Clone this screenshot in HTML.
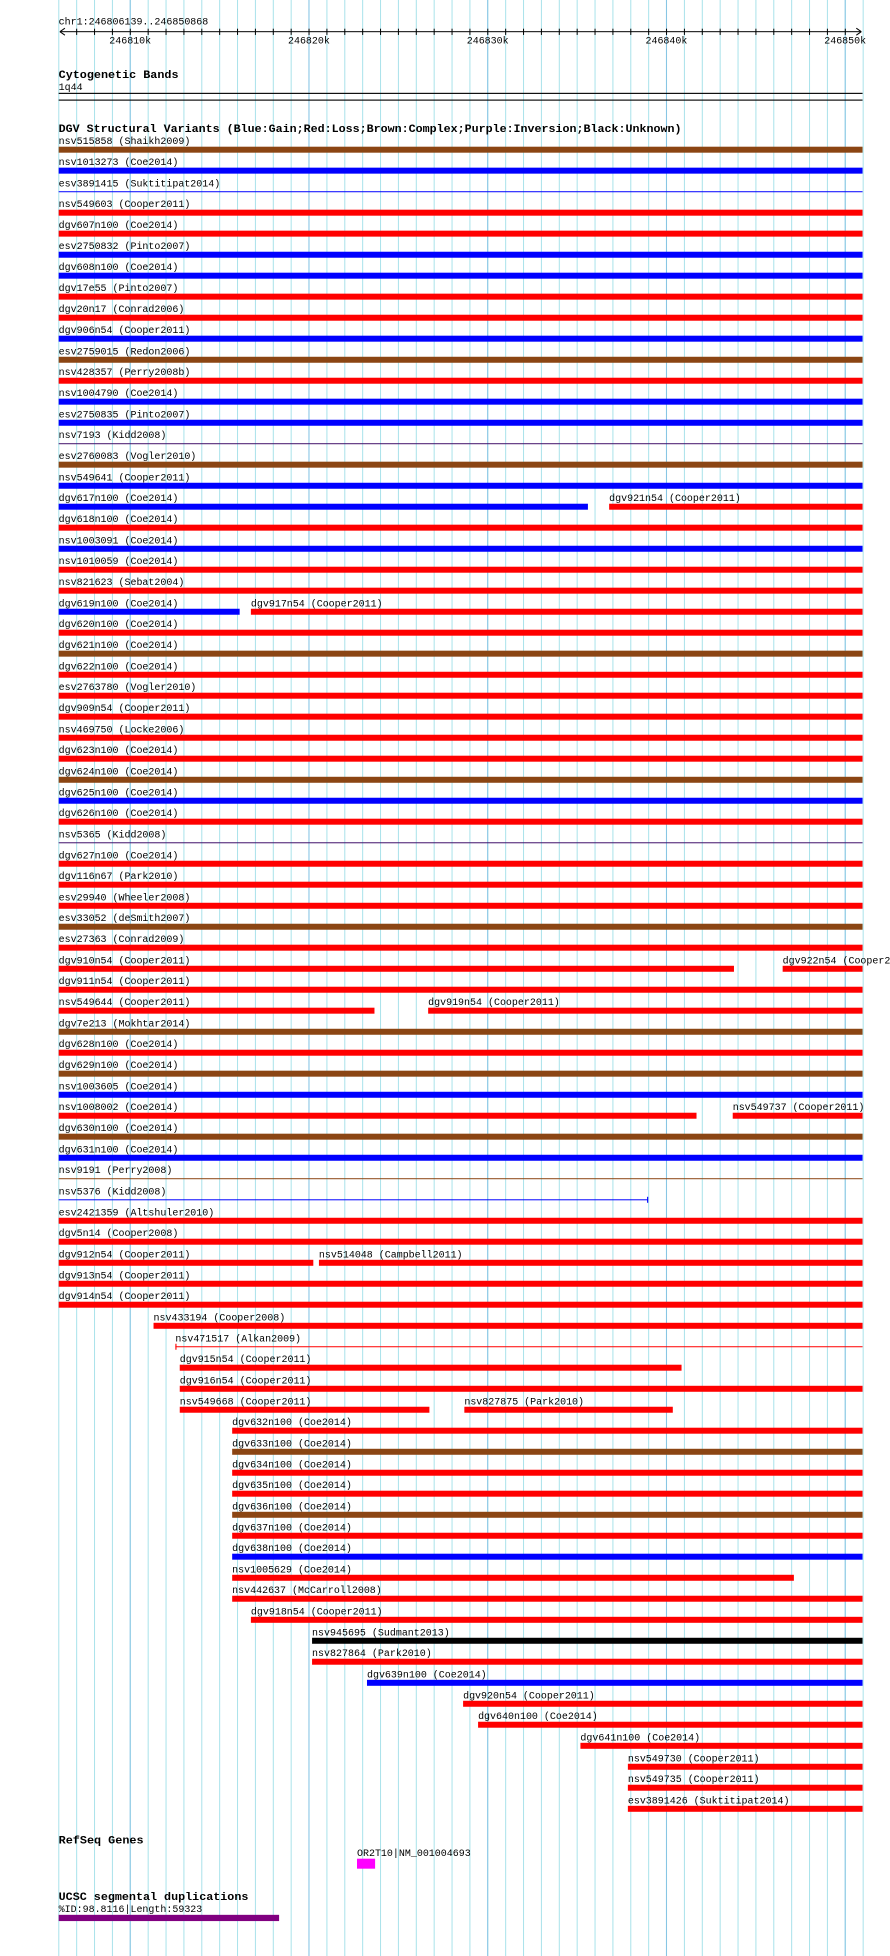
<!DOCTYPE html>
<html><head><meta charset="utf-8"><style>
html,body{margin:0;padding:0;background:#fff;}
svg{display:block;}
text{font-family:"Liberation Mono","DejaVu Sans Mono",monospace;font-size:8px;fill:#000;}
.b{font-weight:bold;font-size:9px;}
</style></head><body>
<svg width="890" height="1956" viewBox="0 0 713 1568" preserveAspectRatio="none" xmlns="http://www.w3.org/2000/svg">
<defs>
<pattern id="mn" x="46.7" y="0" width="14.32" height="20" patternUnits="userSpaceOnUse"><rect x="0" y="0" width="0.8" height="20" fill="#a8e2ea"/></pattern>
<pattern id="mj" x="103.9" y="0" width="143.2" height="20" patternUnits="userSpaceOnUse"><rect x="0" y="0" width="0.8" height="20" fill="#86c4e4"/></pattern>
<pattern id="tk" x="46.7" y="0" width="14.32" height="20" patternUnits="userSpaceOnUse"><rect x="0" y="0" width="0.8" height="20" fill="#000"/></pattern>
</defs>
<rect x="46" y="0" width="647" height="1568" fill="url(#mn)"/>
<rect x="46" y="0" width="647" height="1568" fill="url(#mj)"/>

<text x="47" y="19.8">chr1:246806139..246850868</text>
<rect x="48" y="25" width="642" height="0.8" fill="#000"/>
<rect x="50" y="23" width="640" height="5" fill="url(#tk)"/>
<path d="M48,25.4 L52,22.6 M48,25.4 L52,28.2 M690,25.4 L686,22.6 M690,25.4 L686,28.2" stroke="#000" stroke-width="0.8" fill="none"/>
<text x="104.3" y="34.8" text-anchor="middle">246810k</text>
<text x="247.5" y="34.8" text-anchor="middle">246820k</text>
<text x="390.7" y="34.8" text-anchor="middle">246830k</text>
<text x="533.9" y="34.8" text-anchor="middle">246840k</text>
<text x="677.1" y="34.8" text-anchor="middle">246850k</text>

<text class="b" x="47" y="62.5" textLength="96" lengthAdjust="spacingAndGlyphs">Cytogenetic Bands</text>
<text x="47" y="72.3">1q44</text>
<rect x="47" y="74.4" width="644" height="0.9" fill="#000"/>
<rect x="47" y="79.8" width="644" height="0.9" fill="#000"/>

<text class="b" x="47" y="105.8" textLength="499" lengthAdjust="spacingAndGlyphs">DGV Structural Variants (Blue:Gain;Red:Loss;Brown:Complex;Purple:Inversion;Black:Unknown)</text>

<g fill="#ff0000">
<g transform="translate(0,120)"><text x="47" y="-4.4">nsv515858 (Shaikh2009)</text><rect x="47" y="-2.4" width="644" height="4.8" fill="#8b4513"/></g>
<g transform="translate(0,136.8)"><text x="47" y="-4.4">nsv1013273 (Coe2014)</text><rect x="47" y="-2.4" width="644" height="4.8" fill="#0000ff"/></g>
<g transform="translate(0,153.7)"><text x="47" y="-4.4">esv3891415 (Suktitipat2014)</text><rect x="47" y="-0.4" width="644" height="0.8" fill="#0000ff"/></g>
<g transform="translate(0,170.5)"><text x="47" y="-4.4">nsv549603 (Cooper2011)</text><rect x="47" y="-2.4" width="644" height="4.8"/></g>
<g transform="translate(0,187.3)"><text x="47" y="-4.4">dgv607n100 (Coe2014)</text><rect x="47" y="-2.4" width="644" height="4.8"/></g>
<g transform="translate(0,204.2)"><text x="47" y="-4.4">esv2750832 (Pinto2007)</text><rect x="47" y="-2.4" width="644" height="4.8" fill="#0000ff"/></g>
<g transform="translate(0,221.0)"><text x="47" y="-4.4">dgv608n100 (Coe2014)</text><rect x="47" y="-2.4" width="644" height="4.8" fill="#0000ff"/></g>
<g transform="translate(0,237.8)"><text x="47" y="-4.4">dgv17e55 (Pinto2007)</text><rect x="47" y="-2.4" width="644" height="4.8"/></g>
<g transform="translate(0,254.7)"><text x="47" y="-4.4">dgv20n17 (Conrad2006)</text><rect x="47" y="-2.4" width="644" height="4.8"/></g>
<g transform="translate(0,271.5)"><text x="47" y="-4.4">dgv906n54 (Cooper2011)</text><rect x="47" y="-2.4" width="644" height="4.8" fill="#0000ff"/></g>
<g transform="translate(0,288.4)"><text x="47" y="-4.4">esv2759015 (Redon2006)</text><rect x="47" y="-2.4" width="644" height="4.8" fill="#8b4513"/></g>
<g transform="translate(0,305.2)"><text x="47" y="-4.4">nsv428357 (Perry2008b)</text><rect x="47" y="-2.4" width="644" height="4.8"/></g>
<g transform="translate(0,322.0)"><text x="47" y="-4.4">nsv1004790 (Coe2014)</text><rect x="47" y="-2.4" width="644" height="4.8" fill="#0000ff"/></g>
<g transform="translate(0,338.9)"><text x="47" y="-4.4">esv2750835 (Pinto2007)</text><rect x="47" y="-2.4" width="644" height="4.8" fill="#0000ff"/></g>
<g transform="translate(0,355.7)"><text x="47" y="-4.4">nsv7193 (Kidd2008)</text><rect x="47" y="-0.4" width="644" height="0.8" fill="#40106a"/></g>
<g transform="translate(0,372.5)"><text x="47" y="-4.4">esv2760083 (Vogler2010)</text><rect x="47" y="-2.4" width="644" height="4.8" fill="#8b4513"/></g>
<g transform="translate(0,389.4)"><text x="47" y="-4.4">nsv549641 (Cooper2011)</text><rect x="47" y="-2.4" width="644" height="4.8" fill="#0000ff"/></g>
<g transform="translate(0,406.2)"><text x="47" y="-4.4">dgv617n100 (Coe2014)</text><rect x="47" y="-2.4" width="424" height="4.8" fill="#0000ff"/><text x="488" y="-4.4">dgv921n54 (Cooper2011)</text><rect x="488" y="-2.4" width="203" height="4.8"/></g>
<g transform="translate(0,423.0)"><text x="47" y="-4.4">dgv618n100 (Coe2014)</text><rect x="47" y="-2.4" width="644" height="4.8"/></g>
<g transform="translate(0,439.9)"><text x="47" y="-4.4">nsv1003091 (Coe2014)</text><rect x="47" y="-2.4" width="644" height="4.8" fill="#0000ff"/></g>
<g transform="translate(0,456.7)"><text x="47" y="-4.4">nsv1010059 (Coe2014)</text><rect x="47" y="-2.4" width="644" height="4.8"/></g>
<g transform="translate(0,473.5)"><text x="47" y="-4.4">nsv821623 (Sebat2004)</text><rect x="47" y="-2.4" width="644" height="4.8"/></g>
<g transform="translate(0,490.4)"><text x="47" y="-4.4">dgv619n100 (Coe2014)</text><rect x="47" y="-2.4" width="145" height="4.8" fill="#0000ff"/><text x="201" y="-4.4">dgv917n54 (Cooper2011)</text><rect x="201" y="-2.4" width="490" height="4.8"/></g>
<g transform="translate(0,507.2)"><text x="47" y="-4.4">dgv620n100 (Coe2014)</text><rect x="47" y="-2.4" width="644" height="4.8"/></g>
<g transform="translate(0,524.0)"><text x="47" y="-4.4">dgv621n100 (Coe2014)</text><rect x="47" y="-2.4" width="644" height="4.8" fill="#8b4513"/></g>
<g transform="translate(0,540.9)"><text x="47" y="-4.4">dgv622n100 (Coe2014)</text><rect x="47" y="-2.4" width="644" height="4.8"/></g>
<g transform="translate(0,557.7)"><text x="47" y="-4.4">esv2763780 (Vogler2010)</text><rect x="47" y="-2.4" width="644" height="4.8"/></g>
<g transform="translate(0,574.5)"><text x="47" y="-4.4">dgv909n54 (Cooper2011)</text><rect x="47" y="-2.4" width="644" height="4.8"/></g>
<g transform="translate(0,591.4)"><text x="47" y="-4.4">nsv469750 (Locke2006)</text><rect x="47" y="-2.4" width="644" height="4.8"/></g>
<g transform="translate(0,608.2)"><text x="47" y="-4.4">dgv623n100 (Coe2014)</text><rect x="47" y="-2.4" width="644" height="4.8"/></g>
<g transform="translate(0,625.1)"><text x="47" y="-4.4">dgv624n100 (Coe2014)</text><rect x="47" y="-2.4" width="644" height="4.8" fill="#8b4513"/></g>
<g transform="translate(0,641.9)"><text x="47" y="-4.4">dgv625n100 (Coe2014)</text><rect x="47" y="-2.4" width="644" height="4.8" fill="#0000ff"/></g>
<g transform="translate(0,658.7)"><text x="47" y="-4.4">dgv626n100 (Coe2014)</text><rect x="47" y="-2.4" width="644" height="4.8"/></g>
<g transform="translate(0,675.6)"><text x="47" y="-4.4">nsv5365 (Kidd2008)</text><rect x="47" y="-0.4" width="644" height="0.8" fill="#40106a"/></g>
<g transform="translate(0,692.4)"><text x="47" y="-4.4">dgv627n100 (Coe2014)</text><rect x="47" y="-2.4" width="644" height="4.8"/></g>
<g transform="translate(0,709.2)"><text x="47" y="-4.4">dgv116n67 (Park2010)</text><rect x="47" y="-2.4" width="644" height="4.8"/></g>
<g transform="translate(0,726.1)"><text x="47" y="-4.4">esv29940 (Wheeler2008)</text><rect x="47" y="-2.4" width="644" height="4.8"/></g>
<g transform="translate(0,742.9)"><text x="47" y="-4.4">esv33052 (deSmith2007)</text><rect x="47" y="-2.4" width="644" height="4.8" fill="#8b4513"/></g>
<g transform="translate(0,759.7)"><text x="47" y="-4.4">esv27363 (Conrad2009)</text><rect x="47" y="-2.4" width="644" height="4.8"/></g>
<g transform="translate(0,776.6)"><text x="47" y="-4.4">dgv910n54 (Cooper2011)</text><rect x="47" y="-2.4" width="541" height="4.8"/><text x="627" y="-4.4">dgv922n54 (Cooper2011)</text><rect x="627" y="-2.4" width="64" height="4.8"/></g>
<g transform="translate(0,793.4)"><text x="47" y="-4.4">dgv911n54 (Cooper2011)</text><rect x="47" y="-2.4" width="644" height="4.8"/></g>
<g transform="translate(0,810.2)"><text x="47" y="-4.4">nsv549644 (Cooper2011)</text><rect x="47" y="-2.4" width="253" height="4.8"/><text x="343" y="-4.4">dgv919n54 (Cooper2011)</text><rect x="343" y="-2.4" width="348" height="4.8"/></g>
<g transform="translate(0,827.1)"><text x="47" y="-4.4">dgv7e213 (Mokhtar2014)</text><rect x="47" y="-2.4" width="644" height="4.8" fill="#8b4513"/></g>
<g transform="translate(0,843.9)"><text x="47" y="-4.4">dgv628n100 (Coe2014)</text><rect x="47" y="-2.4" width="644" height="4.8"/></g>
<g transform="translate(0,860.7)"><text x="47" y="-4.4">dgv629n100 (Coe2014)</text><rect x="47" y="-2.4" width="644" height="4.8" fill="#8b4513"/></g>
<g transform="translate(0,877.6)"><text x="47" y="-4.4">nsv1003605 (Coe2014)</text><rect x="47" y="-2.4" width="644" height="4.8" fill="#0000ff"/></g>
<g transform="translate(0,894.4)"><text x="47" y="-4.4">nsv1008002 (Coe2014)</text><rect x="47" y="-2.4" width="511" height="4.8"/><text x="587" y="-4.4">nsv549737 (Cooper2011)</text><rect x="587" y="-2.4" width="104" height="4.8"/></g>
<g transform="translate(0,911.2)"><text x="47" y="-4.4">dgv630n100 (Coe2014)</text><rect x="47" y="-2.4" width="644" height="4.8" fill="#8b4513"/></g>
<g transform="translate(0,928.1)"><text x="47" y="-4.4">dgv631n100 (Coe2014)</text><rect x="47" y="-2.4" width="644" height="4.8" fill="#0000ff"/></g>
<g transform="translate(0,944.9)"><text x="47" y="-4.4">nsv9191 (Perry2008)</text><rect x="47" y="-0.4" width="644" height="0.8" fill="#8b4513"/></g>
<g transform="translate(0,961.8)"><text x="47" y="-4.4">nsv5376 (Kidd2008)</text><rect x="47" y="-0.4" width="472" height="0.8" fill="#0000ff"/><rect x="518.4" y="-2.4" width="0.9" height="4.8" fill="#0000ff"/></g>
<g transform="translate(0,978.6)"><text x="47" y="-4.4">esv2421359 (Altshuler2010)</text><rect x="47" y="-2.4" width="644" height="4.8"/></g>
<g transform="translate(0,995.4)"><text x="47" y="-4.4">dgv5n14 (Cooper2008)</text><rect x="47" y="-2.4" width="644" height="4.8"/></g>
<g transform="translate(0,1012.3)"><text x="47" y="-4.4">dgv912n54 (Cooper2011)</text><rect x="47" y="-2.4" width="204" height="4.8"/><text x="255.5" y="-4.4">nsv514048 (Campbell2011)</text><rect x="255.5" y="-2.4" width="435.5" height="4.8"/></g>
<g transform="translate(0,1029.1)"><text x="47" y="-4.4">dgv913n54 (Cooper2011)</text><rect x="47" y="-2.4" width="644" height="4.8"/></g>
<g transform="translate(0,1045.9)"><text x="47" y="-4.4">dgv914n54 (Cooper2011)</text><rect x="47" y="-2.4" width="644" height="4.8"/></g>
<g transform="translate(0,1062.8)"><text x="123" y="-4.4">nsv433194 (Cooper2008)</text><rect x="123" y="-2.4" width="568" height="4.8"/></g>
<g transform="translate(0,1079.6)"><text x="140.5" y="-4.4">nsv471517 (Alkan2009)</text><rect x="140.5" y="-0.4" width="550.5" height="0.8"/><rect x="140.5" y="-2.4" width="0.9" height="4.8"/></g>
<g transform="translate(0,1096.4)"><text x="144" y="-4.4">dgv915n54 (Cooper2011)</text><rect x="144" y="-2.4" width="402" height="4.8"/></g>
<g transform="translate(0,1113.3)"><text x="144" y="-4.4">dgv916n54 (Cooper2011)</text><rect x="144" y="-2.4" width="547" height="4.8"/></g>
<g transform="translate(0,1130.1)"><text x="144" y="-4.4">nsv549668 (Cooper2011)</text><rect x="144" y="-2.4" width="200" height="4.8"/><text x="372" y="-4.4">nsv827875 (Park2010)</text><rect x="372" y="-2.4" width="167" height="4.8"/></g>
<g transform="translate(0,1146.9)"><text x="186" y="-4.4">dgv632n100 (Coe2014)</text><rect x="186" y="-2.4" width="505" height="4.8"/></g>
<g transform="translate(0,1163.8)"><text x="186" y="-4.4">dgv633n100 (Coe2014)</text><rect x="186" y="-2.4" width="505" height="4.8" fill="#8b4513"/></g>
<g transform="translate(0,1180.6)"><text x="186" y="-4.4">dgv634n100 (Coe2014)</text><rect x="186" y="-2.4" width="505" height="4.8"/></g>
<g transform="translate(0,1197.4)"><text x="186" y="-4.4">dgv635n100 (Coe2014)</text><rect x="186" y="-2.4" width="505" height="4.8"/></g>
<g transform="translate(0,1214.3)"><text x="186" y="-4.4">dgv636n100 (Coe2014)</text><rect x="186" y="-2.4" width="505" height="4.8" fill="#8b4513"/></g>
<g transform="translate(0,1231.1)"><text x="186" y="-4.4">dgv637n100 (Coe2014)</text><rect x="186" y="-2.4" width="505" height="4.8"/></g>
<g transform="translate(0,1247.9)"><text x="186" y="-4.4">dgv638n100 (Coe2014)</text><rect x="186" y="-2.4" width="505" height="4.8" fill="#0000ff"/></g>
<g transform="translate(0,1264.8)"><text x="186" y="-4.4">nsv1005629 (Coe2014)</text><rect x="186" y="-2.4" width="450" height="4.8"/></g>
<g transform="translate(0,1281.6)"><text x="186" y="-4.4">nsv442637 (McCarroll2008)</text><rect x="186" y="-2.4" width="505" height="4.8"/></g>
<g transform="translate(0,1298.5)"><text x="201" y="-4.4">dgv918n54 (Cooper2011)</text><rect x="201" y="-2.4" width="490" height="4.8"/></g>
<g transform="translate(0,1315.3)"><text x="250" y="-4.4">nsv945695 (Sudmant2013)</text><rect x="250" y="-2.4" width="441" height="4.8" fill="#000"/></g>
<g transform="translate(0,1332.1)"><text x="250" y="-4.4">nsv827864 (Park2010)</text><rect x="250" y="-2.4" width="441" height="4.8"/></g>
<g transform="translate(0,1349.0)"><text x="294" y="-4.4">dgv639n100 (Coe2014)</text><rect x="294" y="-2.4" width="397" height="4.8" fill="#0000ff"/></g>
<g transform="translate(0,1365.8)"><text x="371" y="-4.4">dgv920n54 (Cooper2011)</text><rect x="371" y="-2.4" width="320" height="4.8"/></g>
<g transform="translate(0,1382.6)"><text x="383" y="-4.4">dgv640n100 (Coe2014)</text><rect x="383" y="-2.4" width="308" height="4.8"/></g>
<g transform="translate(0,1399.5)"><text x="465" y="-4.4">dgv641n100 (Coe2014)</text><rect x="465" y="-2.4" width="226" height="4.8"/></g>
<g transform="translate(0,1416.3)"><text x="503" y="-4.4">nsv549730 (Cooper2011)</text><rect x="503" y="-2.4" width="188" height="4.8"/></g>
<g transform="translate(0,1433.1)"><text x="503" y="-4.4">nsv549735 (Cooper2011)</text><rect x="503" y="-2.4" width="188" height="4.8"/></g>
<g transform="translate(0,1450)"><text x="503" y="-4.4">esv3891426 (Suktitipat2014)</text><rect x="503" y="-2.4" width="188" height="4.8"/></g>
</g>

<text class="b" x="47" y="1478" textLength="68" lengthAdjust="spacingAndGlyphs">RefSeq Genes</text>
<text x="286" y="1488">OR2T10|NM_001004693</text>
<rect x="286" y="1490" width="14.5" height="8" fill="#ff00ff"/>
<text class="b" x="47" y="1523" textLength="152" lengthAdjust="spacingAndGlyphs">UCSC segmental duplications</text>
<text x="47" y="1532.6">%ID:98.8116|Length:59323</text>
<rect x="47" y="1535" width="176.6" height="5" fill="#800080"/>
</svg>
</body></html>
